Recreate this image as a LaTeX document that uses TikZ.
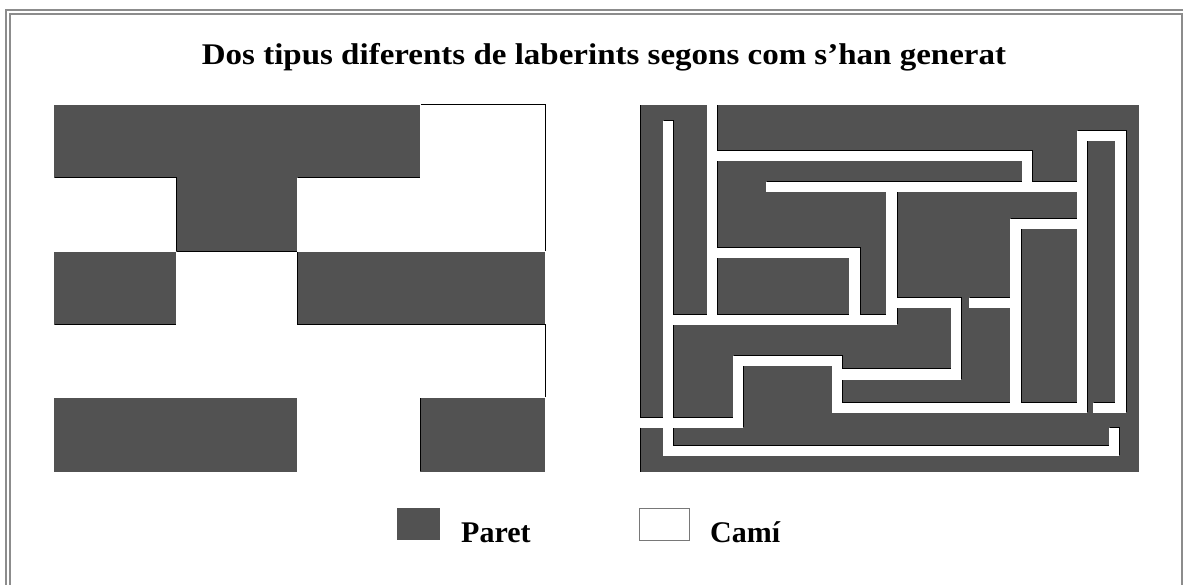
\documentclass[tikz,border=0pt]{standalone}
\usepackage{fontspec}
\setmainfont{Liberation Serif}
\definecolor{wall}{RGB}{82,82,82}
\definecolor{framegrey}{RGB}{140,140,140}
\definecolor{boxgrey}{RGB}{120,120,120}
\begin{document}
\begin{tikzpicture}[x=1pt,y=-1pt,
  wallfill/.style={fill=wall},
  pathfill/.style={fill=white},
  shadowfill/.style={fill=black,xshift=1.1pt,yshift=1.1pt},
  frameline/.style={draw=framegrey,line width=2pt},
  bigtext/.style={font=\bfseries\fontsize{30}{36}\selectfont,inner sep=0pt}]
\useasboundingbox (0,0) rectangle (1183,584);
\clip (0,0) rectangle (1183,584);
\fill[white] (0,0) rectangle (1183,584);
% frame
\draw[frameline] (6,600) -- (6,10) -- (1200,10);
\draw[frameline] (10,600) -- (10,14) -- (1182,14) -- (1182,600);
% title
\node[bigtext,anchor=base] (title) at (604,64) {\scalebox{1.1}[1]{Dos tipus diferents de laberints segons com s’han generat}};
% left maze
\fill[wallfill] (54,105) rectangle (545,472);
\foreach \a/\b/\c/\d in {420/105/545/178, 54/178/176/252, 297/178/545/252, 176/252/297/325, 54/325/545/398, 297/398/420/472}
  \fill[shadowfill] (\a,\b) rectangle (\c,\d);
\foreach \a/\b/\c/\d in {420/105/545/178, 54/178/176/252, 297/178/545/252, 176/252/297/325, 54/325/545/398, 297/398/420/472}
  \fill[pathfill] (\a,\b) rectangle (\c,\d);
% right maze
\begin{scope}[shift={(630pt,-95pt)},x=0.333333pt,y=-0.333333pt]
  \fill[wallfill] (30,30) rectangle (1528,1132);
  \begin{scope}
    \clip (30,30) rectangle (1528,1132);
    \foreach \a/\b/\c/\d in {98/78/130/1082, 98/1052/1468/1082, 1438/1000/1468/1082, 30/968/338/998, 308/782/338/998, 308/782/636/812, 606/782/636/955, 606/925/1370/955, 1340/108/1370/955, 1340/108/1488/138, 1456/108/1488/955, 1390/925/1488/955, 408/262/1340/292, 1176/168/1206/292, 230/168/1206/198, 230/30/260/690, 130/660/800/690, 768/262/800/690, 260/460/690/490, 658/460/690/660, 800/610/994/640, 962/610/994/855, 636/822/994/855, 1016/610/1146/640, 1140/372/1172/925, 1140/372/1340/402}
      \fill[shadowfill] (\a,\b) rectangle (\c,\d);
  \end{scope}
  \foreach \a/\b/\c/\d in {98/78/130/1082, 98/1052/1468/1082, 1438/1000/1468/1082, 30/968/338/998, 308/782/338/998, 308/782/636/812, 606/782/636/955, 606/925/1370/955, 1340/108/1370/955, 1340/108/1488/138, 1456/108/1488/955, 1390/925/1488/955, 408/262/1340/292, 1176/168/1206/292, 230/168/1206/198, 230/30/260/690, 130/660/800/690, 768/262/800/690, 260/460/690/490, 658/460/690/660, 800/610/994/640, 962/610/994/855, 636/822/994/855, 1016/610/1146/640, 1140/372/1172/925, 1140/372/1340/402}
    \fill[pathfill] (\a,\b) rectangle (\c,\d);
  \draw[black,line width=1pt] (31.5,30) -- (31.5,968) (31.5,998) -- (31.5,1132);
\end{scope}
% legend
\node[wallfill,inner sep=0pt,minimum width=43pt,minimum height=32pt,anchor=north west] (parbox) at (397,508) {};
\node[bigtext,anchor=base west] (paret) at (461,542) {Paret};
\node[draw=boxgrey,line width=0.8pt,fill=white,inner sep=0pt,minimum width=50pt,minimum height=32pt,anchor=north west] (camibox) at (639,508) {};
\node[bigtext,anchor=base west] (cami) at (710,542) {Camí};
\end{tikzpicture}
\end{document}
